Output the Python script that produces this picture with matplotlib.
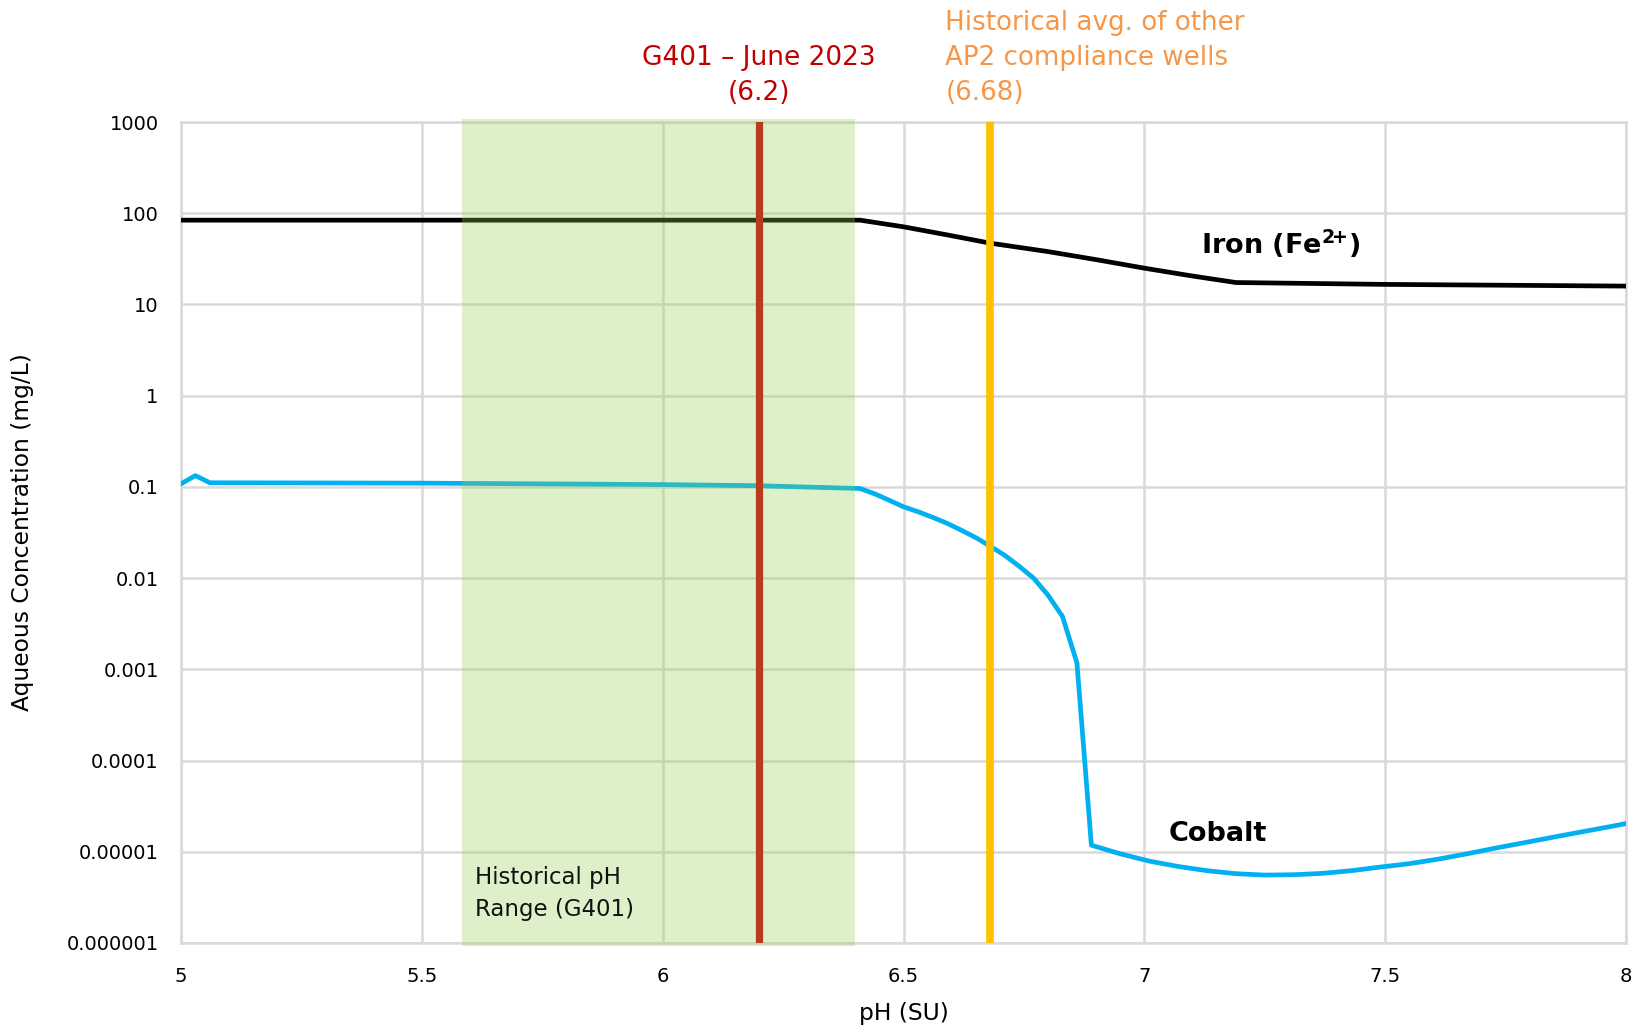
import matplotlib.pyplot as plt
import matplotlib.transforms as mtransforms
from matplotlib.patches import Rectangle

plt.rcParams['font.family'] = ['DejaVu Sans']

# Modelled aqueous iron (Fe2+) vs pH
ph_iron = [5.0, 6.41, 6.5, 6.59, 6.68, 6.8, 6.9, 7.0, 7.1, 7.19, 7.5, 8.0]
iron = [84, 84, 71, 58, 47, 38, 31, 25, 20.5, 17.4, 16.6, 15.9]

# Modelled aqueous cobalt vs pH
ph_cobalt = [5.00, 5.03, 5.06, 5.5, 6.0, 6.2, 6.41, 6.44, 6.47, 6.50, 6.53,
             6.56, 6.59, 6.62, 6.65, 6.68, 6.71, 6.74, 6.77, 6.80, 6.83,
             6.86, 6.89, 6.95, 7.01, 7.07, 7.13, 7.19, 7.25, 7.31, 7.37,
             7.43, 7.49, 7.55, 7.61, 7.67, 7.73, 7.79, 7.85, 7.91, 7.97, 8.00]
cobalt = [0.108, 0.133, 0.111, 0.110, 0.106, 0.103, 0.096, 0.084, 0.0715,
          0.0605, 0.0535, 0.0465, 0.040, 0.0335, 0.0278, 0.0224, 0.0178,
          0.0135, 0.0100, 0.0065, 0.0038, 0.00118, 1.18e-5, 9.5e-6, 7.9e-6,
          6.9e-6, 6.2e-6, 5.75e-6, 5.55e-6, 5.6e-6, 5.8e-6, 6.2e-6, 6.8e-6,
          7.4e-6, 8.3e-6, 9.5e-6, 1.1e-5, 1.26e-5, 1.45e-5, 1.66e-5, 1.9e-5,
          2.04e-5]

# pH references
ph_range_g401 = (5.583, 6.40)
ph_g401_june = 6.2
ph_ap2_avg = 6.68

x_ticks = [5, 5.5, 6, 6.5, 7, 7.5, 8]
x_tick_labels = ['5', '5.5', '6', '6.5', '7', '7.5', '8']
y_ticks = [1e3, 1e2, 1e1, 1, 1e-1, 1e-2, 1e-3, 1e-4, 1e-5, 1e-6]
y_tick_labels = ['1000', '100', '10', '1', '0.1', '0.01', '0.001', '0.0001',
                 '0.00001', '0.000001']

fig = plt.figure(figsize=(16.42, 10.29), dpi=100)
ax = fig.add_axes([0.1102, 0.0836, 0.8801, 0.7978])

ax.plot(ph_iron, iron, color='black', lw=3.4, zorder=3)
ax.plot(ph_cobalt, cobalt, color='#00B0F0', lw=3.4, zorder=3)

# shaded historical range sits over the curves, a bit past the frame
trans = mtransforms.blended_transform_factory(ax.transData, ax.transAxes)
ax.add_patch(Rectangle((ph_range_g401[0], -0.004), ph_range_g401[1] - ph_range_g401[0], 1.008,
                       transform=trans, facecolor='#92D050', alpha=0.3,
                       edgecolor='none', clip_on=False, zorder=4))

ax.axvline(ph_g401_june, color='#B83C1C', lw=5.2, zorder=5)
ax.axvline(ph_ap2_avg, color='#FFC000', lw=5.5, zorder=5)

ax.set_yscale('log')
ax.set_xlim(5, 8)
ax.set_ylim(1e-6, 1e3)
ax.set_xticks(x_ticks, x_tick_labels)
ax.set_yticks(y_ticks, y_tick_labels)
ax.minorticks_off()
ax.tick_params(axis='both', length=0, labelsize=14, colors='black')
ax.tick_params(axis='y', pad=16)
ax.tick_params(axis='x', pad=17)
ax.grid(True, color='#D9D9D9', lw=1.8)
ax.set_axisbelow(True)
for s in ax.spines.values():
    s.set_color('#D9D9D9')
    s.set_linewidth(1.8)

ax.set_ylabel('Aqueous Concentration (mg/L)', fontsize=16.8)
ax.yaxis.set_label_coords(-0.102, 0.5)
ax.set_xlabel('pH (SU)', fontsize=16.8)
ax.xaxis.set_label_coords(0.5, -0.072)

# line labels
ax.text(7.118, 46, r'Iron (Fe$^{\mathbf{2}\!\mathbf{+}}$)', fontsize=19.5,
        fontweight='bold', va='center', ha='left', zorder=6)
ax.text(7.05, 1.55e-5, 'Cobalt', fontsize=19.5, fontweight='bold', va='center',
        ha='left', zorder=6)
ax.text(5.611, 5.2e-6, 'Historical pH', fontsize=16.5, color='#111111',
        va='center', zorder=6)
ax.text(5.611, 2.35e-6, 'Range (G401)', fontsize=16.5, color='#111111',
        va='center', zorder=6)

ax.text(ph_g401_june, 1.0784, 'G401 – June 2023', transform=trans, fontsize=19,
        color='#C00000', ha='center', va='center')
ax.text(ph_g401_june, 1.0353, '(6.2)', transform=trans, fontsize=19,
        color='#C00000', ha='center', va='center')

ax.text(6.587, 1.1206, 'Historical avg. of other', transform=trans, fontsize=18.8,
        color='#F79646', ha='left', va='center')
ax.text(6.587, 1.0784, 'AP2 compliance wells', transform=trans, fontsize=18.8,
        color='#F79646', ha='left', va='center')
ax.text(6.587, 1.0353, '(6.68)', transform=trans, fontsize=18.8,
        color='#F79646', ha='left', va='center')

fig.savefig('out.png', dpi=100)
